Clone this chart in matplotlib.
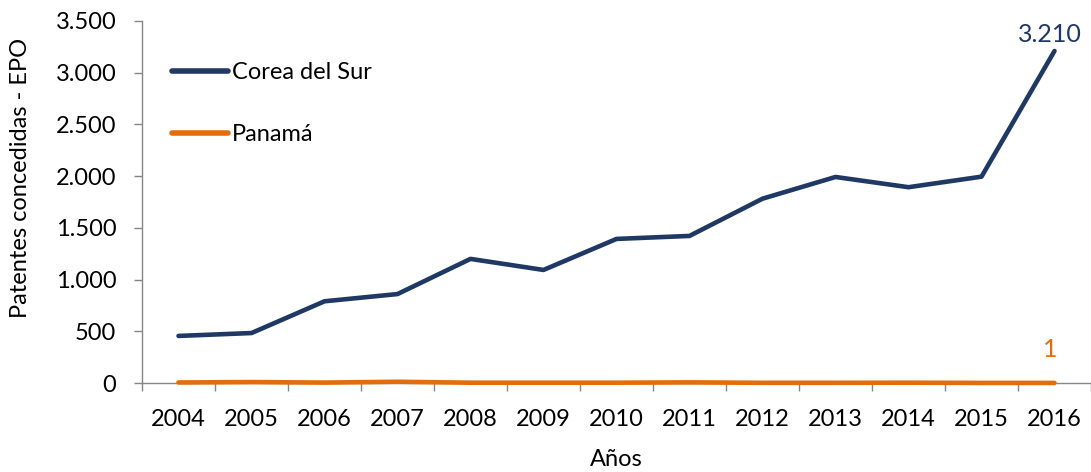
import matplotlib
matplotlib.use("Agg")
import matplotlib.pyplot as plt
from matplotlib.ticker import FuncFormatter, FixedLocator

plt.rcParams['font.family'] = ['Lato', 'DejaVu Sans']

years = ["2004", "2005", "2006", "2007", "2008", "2009", "2010",
         "2011", "2012", "2013", "2014", "2015", "2016"]
corea = [455, 483, 790, 860, 1200, 1093, 1393, 1422, 1782, 1992, 1893, 1995, 3210]
panama = [5, 9, 4, 12, 3, 3, 3, 6, 2, 2, 3, 1, 1]

navy = "#1F3864"
orange = "#E46C0A"
grey = "#868686"
fs = 17


def miles(v):
    return f"{int(v):,}".replace(",", ".")


fig = plt.figure(figsize=(10.91, 4.72), dpi=100)
ax = fig.add_axes([142 / 1091, 89 / 472, 1 - 142 / 1091, 362 / 472])

x = list(range(len(years)))
ax.plot(x, corea, color=navy, lw=3.3, solid_capstyle="round", label="Corea del Sur",
        zorder=3)
ax.plot(x, panama, color=orange, lw=3.3, solid_capstyle="round", label="Panamá",
        zorder=3, clip_on=False)

ax.set_xlim(-0.5, len(years) - 0.5)
ax.set_ylim(0, 3500)
ax.set_yticks(range(0, 3501, 500))
ax.yaxis.set_major_formatter(FuncFormatter(lambda v, p: miles(v)))
ax.set_xticks(x)
ax.set_xticklabels(years)
ax.xaxis.set_minor_locator(FixedLocator([i - 0.5 for i in range(len(years) + 1)]))
ax.tick_params(axis="x", which="major", length=0, pad=18.5, labelsize=fs)
ax.tick_params(axis="x", which="minor", length=6, color=grey, width=1)
ax.tick_params(axis="y", length=6, color=grey, width=1, labelsize=fs, pad=12.5)

for s in ("top", "right"):
    ax.spines[s].set_visible(False)
for s in ("left", "bottom"):
    ax.spines[s].set_color(grey)
    ax.spines[s].set_linewidth(1)

ax.set_xlabel("Años", fontsize=fs, labelpad=14)
ax.set_ylabel("Patentes concedidas - EPO", fontsize=fs)
ax.yaxis.set_label_coords(-0.117, 0.567)

ax.annotate(miles(corea[-1]), (x[-1], corea[-1]),
            xytext=(-3, 3.6), textcoords="offset points", ha="center", va="bottom",
            color=navy, fontsize=18)
ax.annotate(str(panama[-1]), (x[-1], panama[-1]),
            xytext=(-3, 16), textcoords="offset points", ha="center", va="bottom",
            color=orange, fontsize=18)

leg = ax.legend(loc="upper left", bbox_to_anchor=(0.0092, 0.945), frameon=False,
                fontsize=fs, handlelength=2.37, handletextpad=0.17, labelspacing=1.72)
for h in leg.get_lines():
    h.set_linewidth(4)

fig.savefig("out.png", dpi=100)
